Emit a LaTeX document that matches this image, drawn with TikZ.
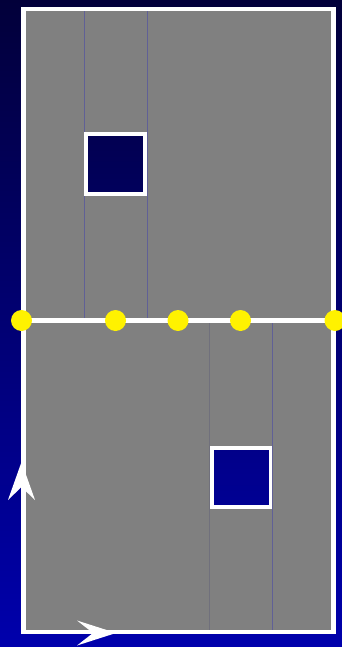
\documentclass[tikz,border=0pt]{standalone}
\usetikzlibrary{positioning}
\definecolor{skytop}{RGB}{2,0,58}
\definecolor{skybot}{RGB}{0,0,172}
\definecolor{slab}{RGB}{128,128,128}
\definecolor{seam}{RGB}{96,96,150}
\definecolor{seamfaint}{RGB}{112,112,124}
\begin{document}
\begin{tikzpicture}[x=0.03cm, y=-0.03cm,
          frame/.style={draw=white, line width=3.8pt},
          hole/.style={draw=white, line width=3.4pt},
          seamline/.style={draw=seam, line width=0.8pt},
          dot/.style={fill=yellow},
          tip/.style={fill=white}]
        \useasboundingbox (0,0) rectangle (342,647);
        \shade[top color=skytop, bottom color=skybot] (0,0) rectangle (342,647);
        % grey slab with the two square openings
        \fill[slab, even odd rule] (23.5,9) rectangle (333.5,632)
          (86,134) rectangle (144.7,193.7)
          (212,448.3) rectangle (270.5,507);
        \draw[seamline] (84.3,9) -- (84.3,320);
        \draw[seamline] (147.3,9) -- (147.3,320);
        \draw[seamline, draw=seamfaint] (209.8,320) -- (209.8,632);
        \draw[seamline] (272.3,320) -- (272.3,632);
        \draw[hole] (86,134) rectangle (144.7,193.7);
        \draw[hole] (212,448.3) rectangle (270.5,507);
        \draw[frame] (23.5,9) rectangle (333.5,632);
        \draw[frame] (23.5,320.5) -- (333.5,320.5);
        \fill[dot] (21.5,320.5) circle (10.5);
        \fill[dot] (115.5,320.5) circle (10.5);
        \fill[dot] (178,320.5) circle (10.5);
        \fill[dot] (240.5,320.5) circle (10.5);
        \fill[dot] (335,320.5) circle (10.5);
        % direction marks on the frame
        \fill[tip] (21.5,462) -- (35,500) -- (21.5,487) -- (8,500) -- cycle;
        \fill[tip] (116,633) -- (77,620.5) -- (93,633) -- (77,645.5) -- cycle;
      \end{tikzpicture}
\end{document}
